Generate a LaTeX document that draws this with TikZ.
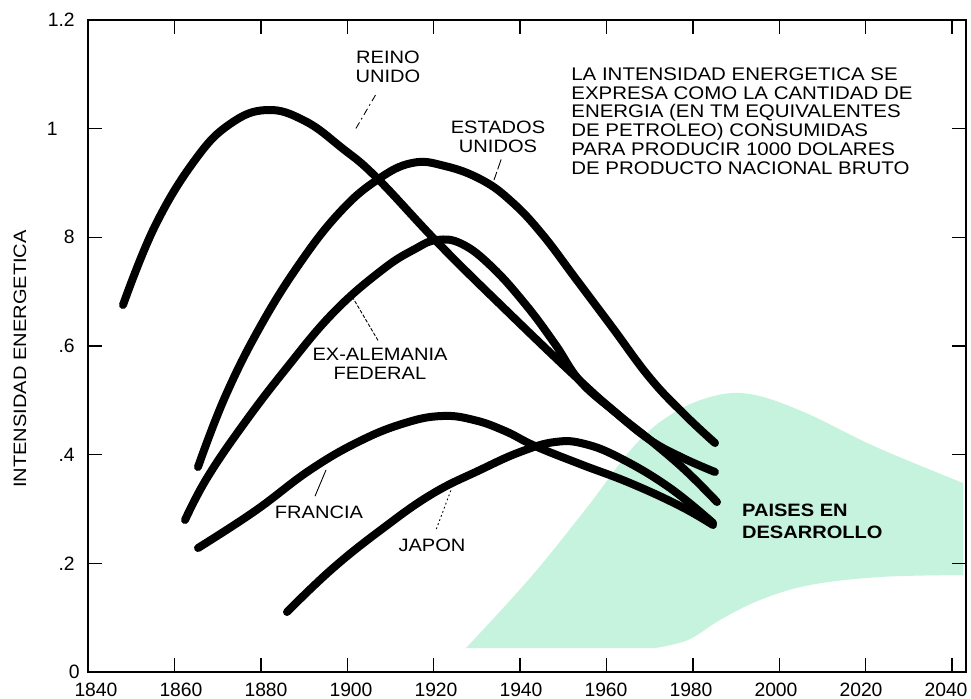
\documentclass[tikz,border=0pt]{standalone}
\usepackage{fontspec}
\setmainfont{Liberation Sans}
\newfontfamily\chartfont[FakeStretch=1.12]{Liberation Sans}
\definecolor{mint}{RGB}{198,243,222}

\begin{document}
\begin{tikzpicture}[%
	x=0.02cm,
	y=-0.02cm,
	every node/.style={%
		font=\chartfont\fontsize{10.2}{10.6}\selectfont,
		align=center,
		inner sep=1pt
	},
	frame/.style={%
		line width=0.9pt
	},
	tickmark/.style={%
		line width=0.8pt
	},
	ticklabel/.style={%
		font=\fontsize{11}{12}\selectfont,
		inner sep=0pt
	},
	trend/.style={%
		line width=0.16cm,
		line cap=round,
		line join=round
	},
	leader/.style={%
		line width=0.5pt
	},
	zone/.style={%
		fill=mint,
		draw=none
	}
	]

	\useasboundingbox (0,0) rectangle (971,698);

	% paises en desarrollo
	\fill[zone] plot[smooth, tension=0.6] coordinates {(466,648) (530,578) (585,510) (635,445) (675,412) (718,395) (755,395) (806,413) (876,447) (963,483)}
		-- (963,575)
		-- plot[smooth, tension=0.6] coordinates {(963,575) (880,577) (810,585) (760,600) (720,620) (688,640) (655,648)}
		-- cycle;

	\draw[frame] (88,20) rectangle (966,672);
	\foreach \i in {1,...,10} {
		\draw[tickmark] (88+86.4*\i,672) -- ++(0,-14);
		\draw[tickmark] (88+86.4*\i,20) -- ++(0,14);
	}
	\foreach \i in {1,...,5} {
		\draw[tickmark] (88,672-108.67*\i) -- ++(14,0);
		\draw[tickmark] (966,672-108.67*\i) -- ++(-14,0);
	}
	\foreach \yr [count=\i from 0] in {1840,1860,...,2040}
		\node[ticklabel, anchor=base] (x\yr) at (96+85*\i,696) {\yr};
	\foreach \val/\i/\px in {0/0/80, .2/1/75, .4/2/75, .6/3/75, 8/4/75, 1/5/58, 1.2/6/75}
		\node[ticklabel, anchor=east] (y\i) at (\px,672-108.67*\i) {\val};
	\node[rotate=90] (ytitle) at (20,359) {INTENSIDAD ENERGETICA};

	% reino unido
	\draw[trend] plot[smooth, tension=0.7] coordinates {(123,305) (155,226) (195,160) (230,124) (267,110) (305,121) (342,148) (377,178) (440,245) (510,314) (577,378) (615,412) (650,440) (685,470) (717,502)};
	% estados unidos
	\draw[trend] plot[smooth, tension=0.7] coordinates {(198,467) (225,397) (260,327) (300,263) (340,212) (377,180) (412,163) (445,166) (482,180) (512,202) (542,234) (576,279) (612,327) (650,378) (685,415) (715,443)};
	% ex-alemania federal
	\draw[trend] plot[smooth, tension=0.7] coordinates {(185,520) (207,478) (243,425) (285,370) (333,313) (382,270) (415,249) (437,240) (462,244) (492,267) (526,305) (555,344) (580,381) (615,412) (650,440) (683,458) (715,472)};
	% francia
	\draw[trend] plot[smooth, tension=0.7] coordinates {(198,548) (255,511) (310,470) (360,441) (405,423) (442,416) (474,420) (505,431) (535,446) (580,464) (630,483) (680,506) (713,525)};
	% japon
	\draw[trend] plot[smooth, tension=0.7] coordinates {(287,612) (332,569) (382,529) (432,494) (480,470) (520,452) (555,442) (585,444) (622,459) (670,488) (713,523)};

	\coordinate (uk mark) at (355,130);
	\coordinate (us mark) at (494,180);
	\coordinate (de mark) at (353,298);
	\coordinate (fr mark) at (326,470);
	\coordinate (jp mark) at (451,490);

	\node (reino) at (388,67) {REINO\\UNIDO};
	\node (estados) at (498,137) {ESTADOS\\UNIDOS};
	\node (alemania) at (380,364) {EX-ALEMANIA\\FEDERAL};
	\node (francia) at (319,512) {FRANCIA};
	\node (japon) at (432,545) {JAPON};
	\node[font=\chartfont\bfseries\fontsize{10.2}{12.4}\selectfont, align=left, anchor=west] (paises) at (740,521) {PAISES EN\\DESARROLLO};
	\node[align=left, anchor=west, inner sep=0pt, font=\chartfont\fontsize{10.4}{10.65}\selectfont] (nota) at (571,121) {LA INTENSIDAD ENERGETICA SE\\EXPRESA COMO LA CANTIDAD DE\\ENERGIA (EN TM EQUIVALENTES\\DE PETROLEO) CONSUMIDAS\\PARA PRODUCIR 1000 DOLARES\\DE PRODUCTO NACIONAL BRUTO};

	\draw[leader, dash pattern=on 4pt off 2pt on 1pt off 2pt, shorten <=0.24cm] (reino.-110) -- (uk mark);
	\draw[leader, dash pattern=on 6pt off 1.5pt, shorten <=0.1cm] (estados.-75) -- (us mark);
	\draw[leader, dash pattern=on 2pt off 1pt, shorten <=0.14cm] (alemania.85) -- (de mark);
	\draw[leader, shorten <=0.16cm] (francia.130) -- (fr mark);
	\draw[leader, dash pattern=on 1pt off 1.5pt, shorten <=0.16cm] (japon.80) -- (jp mark);
\end{tikzpicture}
\end{document}
